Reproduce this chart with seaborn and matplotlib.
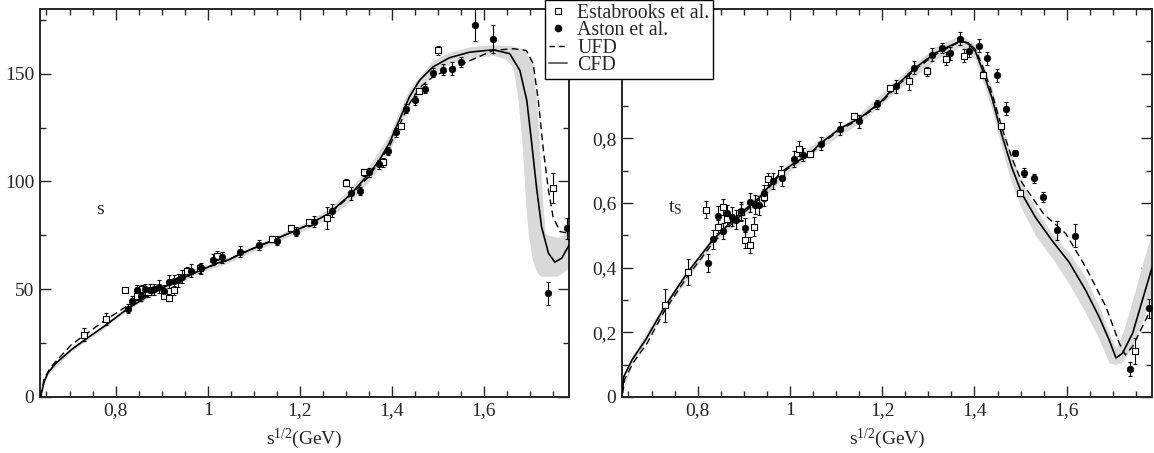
import seaborn as sns
import matplotlib.pyplot as plt
from matplotlib.lines import Line2D
from matplotlib.ticker import MultipleLocator, FuncFormatter

# ---------------- left panel: phase shift ----------------
cfd_x_l = [0.637, 0.645, 0.653, 0.67, 0.704, 0.74, 0.777, 0.826, 0.878, 0.922, 0.96, 0.995,
           1.02, 1.046, 1.067, 1.10, 1.14, 1.213, 1.264, 1.311, 1.351, 1.373, 1.394, 1.416,
           1.438, 1.46, 1.489, 1.525, 1.569, 1.62, 1.656, 1.678, 1.693, 1.703, 1.714, 1.725,
           1.74, 1.754, 1.769, 1.785]
cfd_y_l = [0, 7, 11.1, 15.5, 21.9, 27.5, 33, 40.9, 47.8, 52.8, 56.5, 59.7,
           62.0, 63.6, 65.9, 69.0, 72.5, 79.3, 85.2, 94.1, 103.8, 109.9, 117.6, 128.4,
           139.2, 146.9, 153.1, 157.4, 160.0, 161.1, 159.3, 151.5, 137.6, 119.1, 97.5, 79.0,
           66.7, 62.5, 64.4, 70.5]

ufd_x_l = [0.637, 0.645, 0.66, 0.704, 0.777, 0.826, 0.878, 0.922, 0.995, 1.046, 1.067, 1.14,
           1.213, 1.264, 1.311, 1.351, 1.394, 1.438, 1.46, 1.489, 1.511, 1.554, 1.62, 1.663,
           1.692, 1.707, 1.718, 1.729, 1.74, 1.75, 1.765, 1.785]
ufd_y_l = [0, 8.5, 14, 24.2, 35.5, 42.3, 48.0, 52.8, 59.7, 63.6, 65.9, 72.5,
           79.3, 85.0, 93.5, 102.5, 116, 136, 143.5, 148.5, 150.8, 154.6, 160.8, 161.6,
           160.8, 154.6, 137.6, 114.5, 96, 83.6, 76.7, 75.9]

band_x_l = [0.637, 0.653, 0.704, 0.777, 0.826, 0.878, 0.922, 0.995, 1.046, 1.067, 1.14, 1.213,
            1.264, 1.311, 1.351, 1.394, 1.438, 1.489, 1.525, 1.569, 1.62, 1.645, 1.663, 1.674,
            1.681, 1.686, 1.690, 1.696, 1.705, 1.714, 1.719, 1.723, 1.727, 1.733, 1.74, 1.76,
            1.785]
band_lo_l = [0, 10.3, 21.1, 32.2, 40.1, 47.0, 51.9, 58.5, 62.2, 64.4, 71.0, 77.6,
             83.0, 91.0, 100.0, 113.5, 135.5, 150.0, 154.5, 157.2, 158.5, 157, 153, 137.6,
             122, 107, 91, 76, 63.5, 58, 57, 56, 56, 56, 56, 56,
             60]
band_hi_l = [0, 11.9, 22.7, 33.8, 41.7, 48.6, 53.7, 60.9, 65.0, 67.4, 74.0, 81.0,
             87.4, 97.0, 107.5, 121.5, 143.0, 156.0, 160.0, 162.5, 163.5, 163, 163, 162,
             162, 161, 160, 158, 156, 137.6, 122, 107, 92, 76, 75, 74,
             77]

est_x_l = [0.731, 0.780, 0.821, 0.847, 0.857, 0.870, 0.905, 0.916, 0.926, 0.955, 0.984, 1.020,
           1.140, 1.181, 1.220, 1.260, 1.300, 1.340, 1.380, 1.420, 1.460, 1.500, 1.750]
est_y_l = [28.8, 36.2, 49.5, 47.0, 50.0, 48.5, 46.9, 46.1, 49.5, 58.2, 59.7, 65.6,
           73.3, 78.2, 81.0, 82.9, 99.4, 104.2, 108.8, 125.7, 142.0, 160.8, 97.0]
est_e_l = [3, 2.8, 1, 2, 2, 2, 1.5, 1.5, 2, 2, 2, 2,
           1.5, 1.5, 1.5, 5, 1.5, 1.5, 2, 1.5, 1.5, 2, 7]

ast_x_l = [0.826, 0.836, 0.846, 0.855, 0.864, 0.875, 0.884, 0.895, 0.906, 0.915, 0.926, 0.935,
           0.945, 0.964, 0.985, 1.011, 1.031, 1.071, 1.111, 1.151, 1.191, 1.231, 1.271, 1.311,
           1.331, 1.351, 1.371, 1.391, 1.410, 1.431, 1.450, 1.471, 1.490, 1.511, 1.530, 1.551,
           1.580, 1.620, 1.739, 1.780]
ast_y_l = [40.9, 44.7, 49.4, 47.0, 50.0, 49.7, 50.0, 51.2, 49.2, 53.5, 53.6, 54.0,
           55.8, 58.5, 59.7, 63.6, 64.8, 67.4, 70.5, 72.5, 76.7, 81.3, 86.4, 94.4,
           95.5, 104.2, 107.9, 114.2, 122.7, 133.8, 137.6, 143.1, 150.5, 151.9, 152.3, 155.4,
           172.7, 165.9, 48.1, 78.2]
ast_e_l = [2, 2, 2.5, 2.5, 2.5, 2.5, 2.5, 3, 2.5, 3, 3, 3,
           3, 3, 2.5, 2.5, 2.5, 2.5, 2.5, 2, 2, 2.5, 3, 3,
           2, 2, 2, 2, 2, 2, 2, 2, 2, 2.5, 3, 2.5,
           7.4, 6.5, 5.4, 5]

# ---------------- right panel: inelasticity ----------------
cfd_x_r = [0.637, 0.640, 0.658, 0.687, 0.729, 0.778, 0.832, 0.883, 0.934, 0.980, 1.006, 1.043,
           1.064, 1.108, 1.152, 1.195, 1.228, 1.271, 1.314, 1.347, 1.369, 1.387, 1.402, 1.416,
           1.438, 1.459, 1.481, 1.503, 1.532, 1.568, 1.605, 1.641, 1.670, 1.692, 1.707, 1.721,
           1.743, 1.764, 1.785]
cfd_y_r = [0.013, 0.063, 0.115, 0.176, 0.28, 0.385, 0.484, 0.556, 0.617, 0.694, 0.72, 0.751,
           0.782, 0.83, 0.863, 0.91, 0.96, 1.017, 1.063, 1.086, 1.101, 1.094, 1.069, 1.017,
           0.925, 0.812, 0.71, 0.628, 0.556, 0.484, 0.417, 0.33, 0.248, 0.176, 0.12, 0.135,
           0.197, 0.299, 0.40]

ufd_x_r = [0.637, 0.642, 0.660, 0.690, 0.729, 0.778, 0.832, 0.883, 0.934, 0.980, 1.006, 1.043,
           1.064, 1.108, 1.152, 1.195, 1.228, 1.271, 1.314, 1.347, 1.369, 1.387, 1.402, 1.416,
           1.438, 1.459, 1.481, 1.503, 1.550, 1.598, 1.641, 1.685, 1.714, 1.727, 1.743, 1.764,
           1.785]
ufd_y_r = [0.010, 0.055, 0.105, 0.165, 0.268, 0.373, 0.474, 0.548, 0.612, 0.69, 0.716, 0.748,
           0.778, 0.826, 0.86, 0.906, 0.955, 1.012, 1.058, 1.083, 1.099, 1.096, 1.075, 1.03,
           0.94, 0.835, 0.74, 0.663, 0.566, 0.505, 0.402, 0.279, 0.166, 0.130, 0.156, 0.217,
           0.279]

band_x_r = [0.637, 0.658, 0.729, 0.832, 0.934, 1.006, 1.064, 1.152, 1.228, 1.314, 1.369, 1.402,
            1.438, 1.459, 1.481, 1.503, 1.532, 1.568, 1.605, 1.641, 1.670, 1.692, 1.707, 1.722,
            1.743, 1.764, 1.785]
band_lo_r = [0.008, 0.103, 0.268, 0.472, 0.603, 0.705, 0.768, 0.848, 0.942, 1.042, 1.083, 1.045,
             0.89, 0.77, 0.66, 0.58, 0.50, 0.43, 0.35, 0.26, 0.18, 0.105, 0.10, 0.11,
             0.16, 0.235, 0.31]
band_hi_r = [0.018, 0.127, 0.292, 0.496, 0.631, 0.735, 0.796, 0.878, 0.978, 1.084, 1.119, 1.093,
             0.955, 0.845, 0.745, 0.665, 0.585, 0.505, 0.445, 0.37, 0.28, 0.20, 0.15, 0.20,
             0.30, 0.41, 0.51]

est_x_r = [0.729, 0.778, 0.819, 0.844, 0.854, 0.863, 0.895, 0.903, 0.914, 0.923, 0.943, 0.953,
           0.980, 1.019, 1.043, 1.139, 1.218, 1.258, 1.298, 1.338, 1.378, 1.418, 1.458, 1.498,
           1.748]
est_y_r = [0.284, 0.385, 0.579, 0.527, 0.587, 0.549, 0.571, 0.486, 0.469, 0.527, 0.617, 0.674,
           0.694, 0.768, 0.751, 0.869, 0.956, 0.976, 1.007, 1.046, 1.056, 0.997, 0.838, 0.630,
           0.142]
est_e_r = [0.051, 0.04, 0.027, 0.02, 0.025, 0.02, 0.025, 0.025, 0.025, 0.03, 0.025, 0.02,
           0.02, 0.024, 0.01, 0.01, 0.01, 0.025, 0.015, 0.02, 0.02, 0.01, 0.01, 0.01,
           0.04]

ast_x_r = [0.823, 0.834, 0.844, 0.854, 0.864, 0.874, 0.884, 0.894, 0.903, 0.914, 0.924, 0.934,
           0.943, 0.964, 0.983, 1.008, 1.028, 1.068, 1.108, 1.149, 1.188, 1.229, 1.269, 1.308,
           1.329, 1.348, 1.369, 1.388, 1.409, 1.428, 1.449, 1.468, 1.489, 1.508, 1.529, 1.548,
           1.578, 1.618, 1.738, 1.778]
ast_y_r = [0.414, 0.487, 0.561, 0.513, 0.569, 0.558, 0.548, 0.574, 0.522, 0.602, 0.595, 0.593,
           0.631, 0.667, 0.677, 0.737, 0.749, 0.783, 0.830, 0.853, 0.905, 0.961, 1.019, 1.058,
           1.079, 1.063, 1.108, 1.071, 1.086, 1.048, 0.995, 0.892, 0.754, 0.694, 0.676, 0.619,
           0.515, 0.499, 0.086, 0.274]
ast_e_r = [0.028, 0.03, 0.03, 0.025, 0.025, 0.03, 0.03, 0.03, 0.03, 0.03, 0.03, 0.03,
           0.025, 0.025, 0.025, 0.025, 0.02, 0.02, 0.02, 0.02, 0.015, 0.02, 0.02, 0.02,
           0.015, 0.02, 0.02, 0.02, 0.02, 0.02, 0.02, 0.02, 0.01, 0.015, 0.015, 0.015,
           0.03, 0.036, 0.023, 0.03]

legend_labels = ["Estabrooks et al.", "Aston et al.", "UFD", "CFD"]

sns.set_style("ticks")
plt.rcParams["font.family"] = ["Liberation Serif", "DejaVu Serif"]
plt.rcParams["mathtext.fontset"] = "custom"
plt.rcParams["mathtext.rm"] = "Liberation Serif"
plt.rcParams["mathtext.it"] = "Liberation Serif:italic"
plt.rcParams["mathtext.default"] = "regular"
plt.rcParams["font.size"] = 14

fig = plt.figure(figsize=(11.54, 4.53), dpi=100)
ax_l = fig.add_axes([0.0347, 0.124, 0.4585, 0.856])
ax_r = fig.add_axes([0.539, 0.124, 0.4593, 0.856])

# decimal comma tick labels
comma = FuncFormatter(lambda v, p: f"{v:g}".replace(".", ","))
# right panel y: the 1,2 label sits behind the legend
comma_r = FuncFormatter(lambda v, p: "" if abs(v - 1.2) < 1e-6
                        else f"{v:g}".replace(".", ","))


def draw_panel(ax, bx, blo, bhi, cx, cy, ux, uy, ex, ey, ee, ax_x, ay, ae):
    ax.fill_between(bx, blo, bhi, color="#d9d9d9", lw=0, zorder=1)
    sns.lineplot(x=ux, y=uy, ax=ax, color="k", lw=1.0, linestyle=(0, (5, 3)),
                 sort=False, estimator=None, zorder=3)
    sns.lineplot(x=cx, y=cy, ax=ax, color="k", lw=1.2, sort=False, estimator=None,
                 zorder=3)
    ax.errorbar(ex, ey, yerr=ee, fmt="none", ecolor="k", elinewidth=0.8, capsize=1.6,
                capthick=0.8, zorder=4)
    ax.errorbar(ax_x, ay, yerr=ae, fmt="none", ecolor="k", elinewidth=0.8, capsize=1.6,
                capthick=0.8, zorder=4)
    sns.scatterplot(x=ex, y=ey, ax=ax, marker="s", s=18, facecolor="white",
                    edgecolor="k", linewidth=0.8, zorder=5)
    sns.scatterplot(x=ax_x, y=ay, ax=ax, marker="o", s=22, color="k",
                    edgecolor="k", linewidth=0.5, zorder=5)
    ax.set_xlim(0.636, 1.785)
    ax.xaxis.set_major_locator(MultipleLocator(0.2))
    ax.xaxis.set_minor_locator(MultipleLocator(0.05))
    ax.xaxis.set_major_formatter(comma)
    ax.tick_params(which="both", direction="in", top=True, right=True, width=1.0,
                   labelsize=14)
    ax.tick_params(which="major", length=8, pad=4)
    ax.tick_params(which="minor", length=4)
    for sp in ax.spines.values():
        sp.set_linewidth(1.4)
    ax.set_xlabel(r"s$^{1/2}$(GeV)", fontsize=14, labelpad=5)
    ax.set_ylabel("")


draw_panel(ax_l, band_x_l, band_lo_l, band_hi_l, cfd_x_l, cfd_y_l, ufd_x_l, ufd_y_l,
           est_x_l, est_y_l, est_e_l, ast_x_l, ast_y_l, ast_e_l)
ax_l.set_ylim(0, 180)
ax_l.yaxis.set_major_locator(MultipleLocator(50))
ax_l.yaxis.set_minor_locator(MultipleLocator(25))
ax_l.yaxis.set_major_formatter(comma)
ax_l.text(0.758, 85, "s", fontsize=14)

draw_panel(ax_r, band_x_r, band_lo_r, band_hi_r, cfd_x_r, cfd_y_r, ufd_x_r, ufd_y_r,
           est_x_r, est_y_r, est_e_r, ast_x_r, ast_y_r, ast_e_r)
ax_r.set_ylim(0, 1.2)
ax_r.yaxis.set_major_locator(MultipleLocator(0.2))
ax_r.yaxis.set_minor_locator(MultipleLocator(0.1))
ax_r.yaxis.set_major_formatter(comma_r)
ax_r.text(0.735, 0.57, r"t$_{\rm S}$", fontsize=14)

handles = [
    Line2D([], [], ls="none", marker="s", ms=4, mfc="white", mec="k", mew=0.8),
    Line2D([], [], ls="none", marker="o", ms=4.5, mfc="k", mec="k"),
    Line2D([], [], color="k", lw=1.0, ls=(0, (4, 3))),
    Line2D([], [], color="0.4", lw=1.4),
]
leg = fig.legend(handles, legend_labels, loc="upper center",
                 bbox_to_anchor=(629 / 1154, 1.0), fontsize=14.3, frameon=True,
                 fancybox=False, edgecolor="k", framealpha=1, labelspacing=-0.08,
                 borderpad=0.2, handlelength=0.95, handletextpad=0.5,
                 borderaxespad=0)
leg.get_frame().set_linewidth(1.0)
leg.set_zorder(10)

fig.savefig("out.png", dpi=100)
